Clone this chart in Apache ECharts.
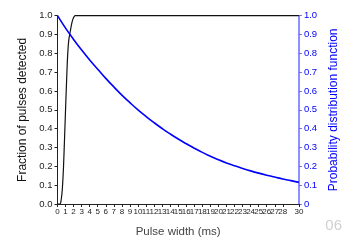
<!DOCTYPE html>
<html><head><meta charset="utf-8">
<script src="https://cdn.jsdelivr.net/npm/echarts@6/dist/echarts.min.js"></script>
<style>html,body{margin:0;padding:0;background:#fff}#c{width:348px;height:244px}</style>
</head><body><div id="c"></div>
<script>
// Fraction of pulses detected (left axis)
const detectedX = [0, 0.3, 0.45, 0.6, 0.75, 0.9, 1.0, 1.1, 1.25, 1.4, 1.6, 1.8, 2.0, 2.2, 2.5, 3, 5, 10, 15, 20, 25, 30];
const detectedY = [0, 0, 0.02, 0.08, 0.2, 0.38, 0.5, 0.62, 0.78, 0.87, 0.92, 0.965, 0.99, 1.0, 1.0, 1.0, 1.0, 1.0, 1.0, 1.0, 1.0, 1.0];
// Probability distribution function (right axis)
const pdfX = [0,1,2,3,4,5,6,7,8,9,10,11,12,13,14,15,16,17,18,19,20,21,22,23,24,25,26,27,28,29,30];
const pdfY = [1.0,0.934,0.874,0.818,0.765,0.716,0.667,0.622,0.578,0.538,0.5,0.465,0.432,0.401,0.372,0.345,0.32,0.296,0.274,0.254,0.235,0.218,0.203,0.189,0.176,0.164,0.153,0.143,0.133,0.124,0.115];
const yTicks = [0,0.1,0.2,0.3,0.4,0.5,0.6,0.7,0.8,0.9,1.0];
const xName = 'Pulse width (ms)';
const yLeftName = 'Fraction of pulses detected';
const yRightName = 'Probability distribution function';

const font = 'Liberation Sans, Arial, sans-serif';
const chart = echarts.init(document.getElementById('c'), null, {renderer:'canvas'});
chart.setOption({
  animation:false,
  backgroundColor:'#fff',
  textStyle:{fontFamily:font},
  grid:{left:57.5, right:44, top:15.7, bottom:40, containLabel:false},
  graphic:[{type:'text', right:6, top:218, style:{text:'06', fill:'#d0d0d0', font:'15px '+font}}],
  xAxis:{type:'value', min:0, max:30, interval:1,
    name:xName, nameLocation:'middle', nameGap:22,
    nameTextStyle:{color:'#444', fontSize:11.5, fontFamily:font},
    axisLine:{show:true, lineStyle:{color:'#222', width:1}},
    axisTick:{show:true, length:3, inside:false, lineStyle:{color:'#222'}},
    axisLabel:{color:'#222', fontSize:8, margin:4, fontFamily:font, showMinLabel:true, showMaxLabel:true},
    splitLine:{show:false}},
  yAxis:[
    {type:'value', min:0, max:1, interval:0.1, position:'left',
     name:yLeftName, nameLocation:'middle', nameGap:27, nameRotate:90,
     nameTextStyle:{color:'#111', fontSize:12, fontFamily:font},
     axisLine:{show:true, lineStyle:{color:'#222', width:1}},
     axisTick:{show:true, length:3, lineStyle:{color:'#222'}},
     axisLabel:{color:'#222', fontSize:9.5, margin:5, fontFamily:font, formatter:v=>v.toFixed(1)},
     splitLine:{show:false}},
    {type:'value', min:0, max:1, interval:0.1, position:'right',
     name:yRightName, nameLocation:'middle', nameGap:27, nameRotate:90,
     nameTextStyle:{color:'#0000ff', fontSize:12, fontFamily:font},
     axisLine:{show:true, lineStyle:{color:'#6a6aff', width:1.5}},
     axisTick:{show:true, length:3, lineStyle:{color:'#6a6aff'}},
     axisLabel:{color:'#0000ff', fontSize:9.5, margin:5, fontFamily:font, formatter:v=>v===0?'0':v.toFixed(1)},
     splitLine:{show:false}}
  ],
  series:[
    {type:'line', yAxisIndex:0, data:detectedX.map((x,i)=>[x,detectedY[i]]), smooth:0.3,
     showSymbol:false, lineStyle:{color:'#111', width:1.2}, z:2},
    {type:'line', yAxisIndex:1, data:pdfX.map((x,i)=>[x,pdfY[i]]), smooth:true,
     showSymbol:false, lineStyle:{color:'#0000ff', width:1.6}, z:3}
  ]
});
</script></body></html>
